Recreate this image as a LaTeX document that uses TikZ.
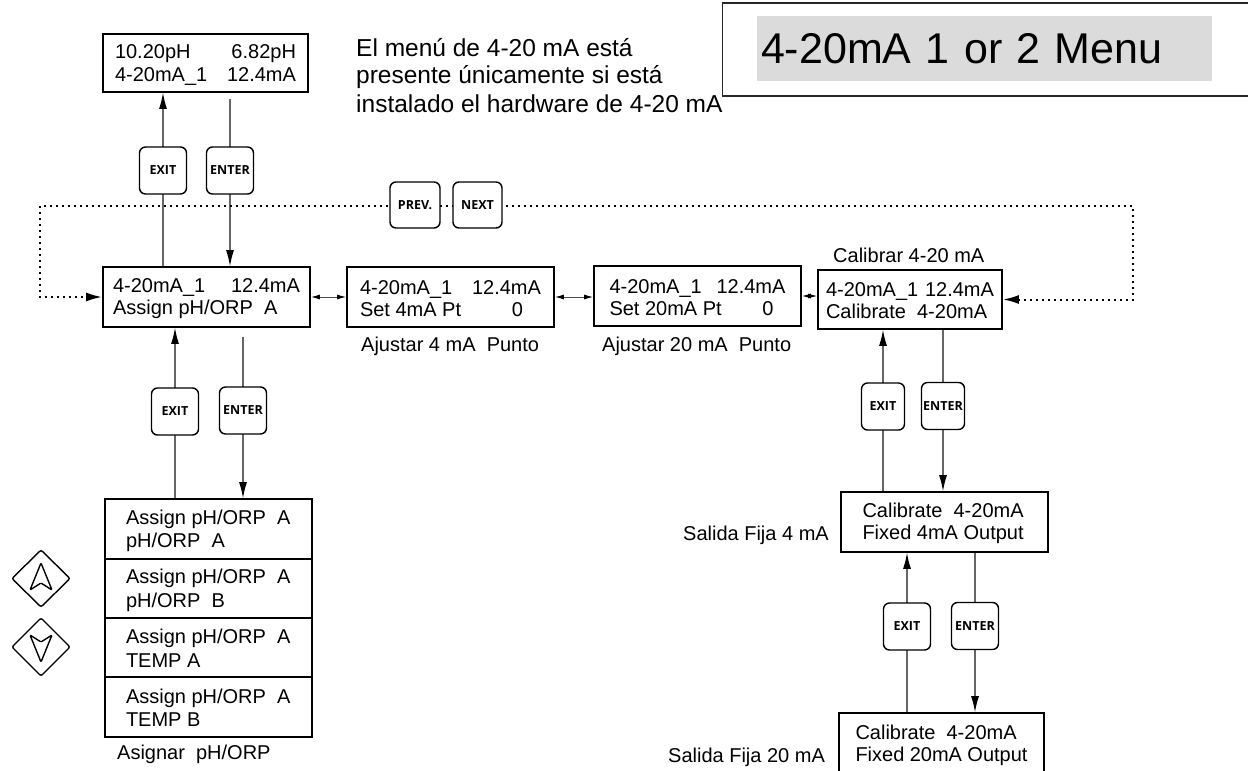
\documentclass[tikz,border=0pt]{standalone}
\usepackage{fontspec}
\setmainfont{Liberation Sans}
\newfontfamily\btnfont{Open Sans}
\usetikzlibrary{arrows.meta,backgrounds}
\newcommand{\lcdtext}[5]{\parbox{#1}{\rule[-2pt]{0pt}{20pt}#2\hfill#3\\\rule[-2pt]{0pt}{20pt}#4\hfill#5}}
\begin{document}
\begin{tikzpicture}[x=1pt,y=-1pt,
  lcd/.style={draw=black, line width=1.8pt, fill=white, inner sep=0pt,
    minimum width=207pt, minimum height=60pt, font=\fontsize{20}{22}\selectfont},
  btn/.style={draw=black, line width=1.4pt, rounded corners=6pt, fill=white,
    minimum width=47pt, minimum height=47pt, inner sep=0pt,
    font=\btnfont\bfseries\fontsize{12.5}{14}\selectfont},
  conn/.style={draw=black!60, line width=1.1pt},
  arr/.style={-{Latex[length=16pt,width=8pt,color=black]}},
  dbl/.style={{Latex[length=9pt,width=5pt,color=black]}-{Latex[length=9pt,width=5pt,color=black]}, draw=black!70, line width=0.9pt},
  dots/.style={line width=2pt, dash pattern=on 2pt off 4pt,
    {Latex[length=16pt,width=9pt]}-{Latex[length=16pt,width=9pt]}},
  lbl/.style={anchor=base west, inner sep=0pt, font=\fontsize{20}{22}\selectfont},
  key/.style={line width=1.4pt, rounded corners=2pt, line join=round}
]
\useasboundingbox (0,0) rectangle (1248,771);
\clip (0,0) rectangle (1248,771);

% title
\node[draw=black!85, line width=1.4pt, minimum width=526pt, minimum height=93pt, inner sep=0pt] (titlebox) at (985.5,49.5) {};
\node[fill=black!14, minimum width=455pt, minimum height=65pt, text width=447pt, inner xsep=4pt, inner ysep=0pt, align=left, font=\fontsize{43}{46}\selectfont] (title) at (984.5,48.5) {4-20mA 1 or 2 Menu};

% info text
\node[anchor=base west, inner sep=0pt, font=\fontsize{24.5}{28}\selectfont] (info) at (356,56)
  {\parbox[t]{400pt}{El menú de 4-20 mA está\\presente únicamente si está\\instalado el hardware de 4-20 mA}};

% LCD boxes
\node[lcd, minimum width=205pt, minimum height=58pt] (top) at (205.5,63) {\lcdtext{181pt}{10.20pH}{6.82pH}{4-20mA\_1}{12.4mA}};
\node[lcd] (b2) at (206.5,297) {\lcdtext{187pt}{4-20mA\_1}{12.4mA}{Assign pH/ORP\ \ A}{}};
\node[lcd] (b3) at (450.5,297) {\lcdtext{181pt}{4-20mA\_1}{12.4mA}{Set 4mA Pt}{0\hspace*{18pt}}};
\node[lcd] (b4) at (697.5,296) {\lcdtext{176pt}{4-20mA\_1}{12.4mA}{Set 20mA Pt}{0\hspace*{12pt}}};
\node[lcd, minimum width=184pt, minimum height=59pt] (b5) at (910,299.5) {\lcdtext{168pt}{4-20mA\_1}{12.4mA}{Calibrate\ \ 4-20mA}{}};
\node[lcd] (b6) at (944.5,522) {\lcdtext{164pt}{Calibrate\ \ 4-20mA}{}{Fixed 4mA Output}{}};
\node[lcd, minimum width=205pt, minimum height=62pt] (b7) at (941.5,744) {\lcdtext{172pt}{Calibrate\ \ 4-20mA}{}{Fixed 20mA Output}{}};

% list
\node[lcd, minimum height=60pt] (r1) at (208.5,529) {\lcdtext{165pt}{Assign pH/ORP\ \ A}{}{pH/ORP\ \ A}{}};
\node[lcd, minimum height=59pt] (r2) at (208.5,588.5) {\lcdtext{165pt}{Assign pH/ORP\ \ A}{}{pH/ORP\ \ B}{}};
\node[lcd, minimum height=59pt] (r3) at (208.5,647.5) {\lcdtext{165pt}{Assign pH/ORP\ \ A}{}{TEMP A}{}};
\node[lcd, minimum height=60pt] (r4) at (208.5,707) {\lcdtext{165pt}{Assign pH/ORP\ \ A}{}{TEMP B}{}};

% labels
\node[lbl] (l3) at (361,351) {Ajustar 4 mA\ \ Punto};
\node[lbl] (l4) at (602,351) {Ajustar 20 mA\ \ Punto};
\node[lbl] (l5) at (833,262) {Calibrar 4-20 mA};
\node[lbl] (l6) at (683,540) {Salida Fija 4 mA};
\node[lbl] (l7) at (668,762) {Salida Fija 20 mA};
\node[lbl] (l8) at (117,759) {Asignar\ \ pH/ORP};

% buttons
\node[btn] (ex1) at (163,170.5) {EXIT};
\node[btn] (en1) at (230,170.5) {ENTER};
\node[btn] (ex2) at (175,411.5) {EXIT};
\node[btn] (en2) at (243,410.5) {ENTER};
\node[btn, minimum width=43pt] (ex3) at (883,406.5) {EXIT};
\node[btn, minimum width=43pt] (en3) at (943,406) {ENTER};
\node[btn] (ex4) at (907,626.5) {EXIT};
\node[btn] (en4) at (975,626) {ENTER};
\node[btn, minimum width=50pt, minimum height=46pt] (prev) at (415,205) {PREV.};
\node[btn, minimum width=49pt, minimum height=46pt] (next) at (477.5,205) {NEXT};

\coordinate (dr) at (1133,206);
\coordinate (dl) at (40,206);

\begin{scope}[on background layer]
  \draw[conn,arr] (ex1 |- b2.north) -- (ex1 |- top.south);
  \draw[conn,arr,shorten <=6pt] (en1 |- top.south) -- (en1 |- b2.north);
  \draw[conn,arr] (ex2 |- r1.north) -- (ex2 |- b2.south);
  \draw[conn,arr,shorten <=9pt] (en2 |- b2.south) -- (en2 |- r1.north);
  \draw[conn,arr] (ex3 |- b6.north) -- (ex3 |- b5.south);
  \draw[conn,arr] (en3 |- b5.south) -- (en3 |- b6.north);
  \draw[conn,arr] (ex4 |- b7.north) -- (ex4 |- b6.south);
  \draw[conn,arr] (en4 |- b6.south) -- (en4 |- b7.north);
  \draw[dots] (b5.east) -| (dr) -- (dl) |- (b2.west);
\end{scope}
\draw[dbl] (b2.east) -- (b3.west);
\draw[dbl] (b3.east) -- (b3.east -| b4.west);
\draw[dbl] (b4.east) -- (b4.east -| b5.west);

% arrow keys
\draw[key] (12,578.5) -- (41,550) -- (70,578.5) -- (41,607) -- cycle;
\draw[key, rounded corners=1pt] (41,563) -- (52,590) -- (41,583) -- (30,590) -- cycle;
\draw[key] (12,647) -- (41,618) -- (70,647) -- (41,676) -- cycle;
\draw[key, rounded corners=1pt] (41,662) -- (52,635) -- (41,642) -- (30,635) -- cycle;
\end{tikzpicture}
\end{document}
